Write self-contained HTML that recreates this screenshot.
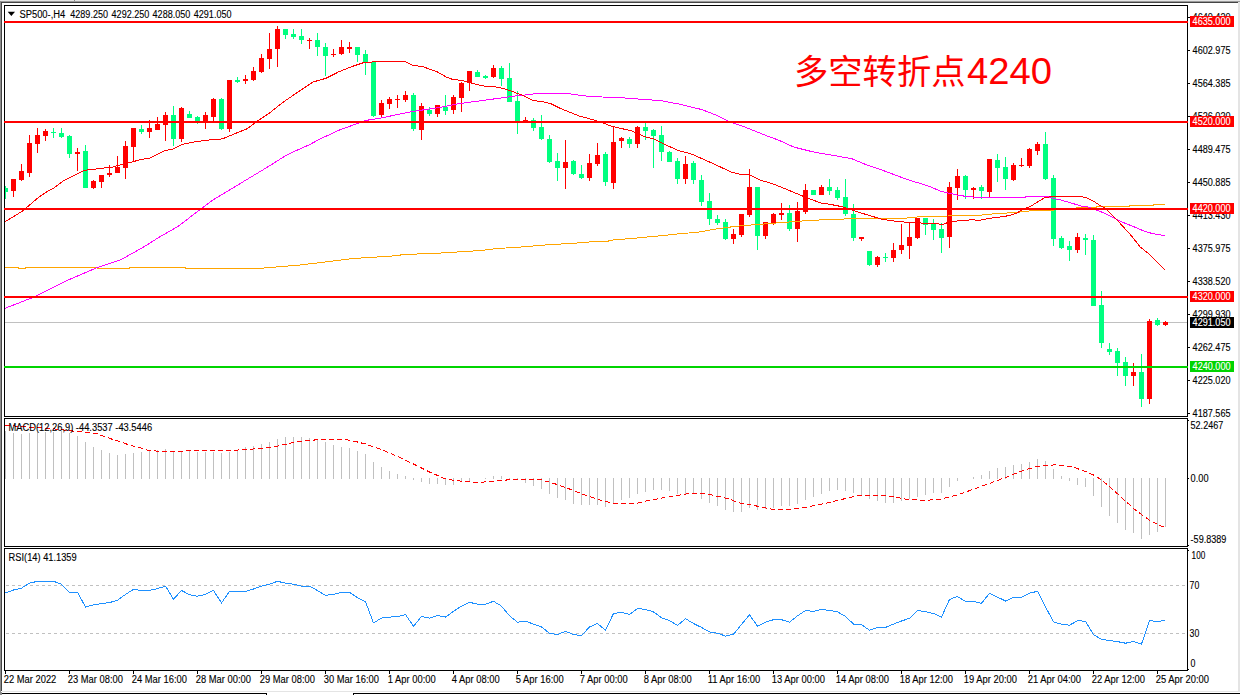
<!DOCTYPE html>
<html><head><meta charset="utf-8"><style>
html,body{margin:0;padding:0;background:#fff;}
body{width:1240px;height:695px;overflow:hidden;}
svg{display:block;}
text{white-space:pre;}
</style></head><body>
<svg width="1240" height="695" viewBox="0 0 1240 695" shape-rendering="crispEdges">
<defs><clipPath id="cm"><rect x="5" y="6" width="1182" height="410"/></clipPath><clipPath id="cd"><rect x="5" y="419" width="1182" height="127"/></clipPath><clipPath id="cr"><rect x="5" y="549" width="1182" height="121"/></clipPath></defs>
<rect x="0" y="0" width="1240" height="695" fill="#fff"/>
<rect x="0" y="0" width="1240" height="1" fill="#e6e6e6"/>
<rect x="0" y="1" width="1240" height="1" fill="#9a9a9a"/>
<rect x="1" y="2" width="1237" height="1" fill="#444"/>
<rect x="0" y="1" width="1" height="691" fill="#8c8c8c"/>
<rect x="1" y="2" width="1" height="689" fill="#444"/>
<rect x="74" y="0" width="1" height="1" fill="#888"/>
<rect x="1238" y="2" width="2" height="690" fill="#e4e4e4"/>
<rect x="2" y="691" width="1237" height="1" fill="#e4e4e4"/>
<rect x="0" y="693" width="267" height="1" fill="#000"/>
<rect x="266" y="693" width="1" height="2" fill="#000"/>
<rect x="353" y="693" width="887" height="1" fill="#000"/>
<rect x="353" y="693" width="1" height="2" fill="#000"/>
<rect x="0" y="692" width="2" height="3" fill="#8c8c8c"/>
<rect x="4" y="5" width="1184" height="1" fill="#000"/>
<rect x="4" y="416" width="1184" height="1" fill="#000"/>
<rect x="4" y="5" width="1" height="412" fill="#000"/>
<rect x="1187" y="5" width="1" height="412" fill="#000"/>
<rect x="4" y="418" width="1184" height="1" fill="#000"/>
<rect x="4" y="546" width="1184" height="1" fill="#000"/>
<rect x="4" y="418" width="1" height="129" fill="#000"/>
<rect x="1187" y="418" width="1" height="129" fill="#000"/>
<rect x="4" y="548" width="1184" height="1" fill="#000"/>
<rect x="4" y="670" width="1184" height="1" fill="#000"/>
<rect x="4" y="548" width="1" height="123" fill="#000"/>
<rect x="1187" y="548" width="1" height="123" fill="#000"/>
<g clip-path="url(#cm)">
<rect x="5" y="322" width="1182" height="1" fill="#c0c0c0"/>
<rect x="5" y="186" width="1" height="13" fill="#00ff7f"/>
<rect x="3" y="188" width="5" height="4" fill="#00ff7f"/>
<rect x="13" y="179" width="1" height="18" fill="#ff0000"/>
<rect x="11" y="179" width="5" height="12" fill="#ff0000"/>
<rect x="21" y="164" width="1" height="17" fill="#ff0000"/>
<rect x="19" y="171" width="5" height="9" fill="#ff0000"/>
<rect x="29" y="135" width="1" height="42" fill="#ff0000"/>
<rect x="27" y="143" width="5" height="30" fill="#ff0000"/>
<rect x="37" y="128" width="1" height="25" fill="#ff0000"/>
<rect x="35" y="135" width="5" height="9" fill="#ff0000"/>
<rect x="45" y="129" width="1" height="12" fill="#ff0000"/>
<rect x="43" y="131" width="5" height="5" fill="#ff0000"/>
<rect x="53" y="128" width="1" height="10" fill="#00ff7f"/>
<rect x="51" y="132" width="5" height="1" fill="#00ff7f"/>
<rect x="61" y="128" width="1" height="10" fill="#00ff7f"/>
<rect x="59" y="133" width="5" height="4" fill="#00ff7f"/>
<rect x="69" y="135" width="1" height="23" fill="#00ff7f"/>
<rect x="67" y="136" width="5" height="18" fill="#00ff7f"/>
<rect x="77" y="148" width="1" height="23" fill="#ff0000"/>
<rect x="75" y="152" width="5" height="2" fill="#ff0000"/>
<rect x="85" y="145" width="1" height="43" fill="#00ff7f"/>
<rect x="83" y="151" width="5" height="37" fill="#00ff7f"/>
<rect x="93" y="180" width="1" height="9" fill="#ff0000"/>
<rect x="91" y="181" width="5" height="7" fill="#ff0000"/>
<rect x="101" y="175" width="1" height="13" fill="#ff0000"/>
<rect x="99" y="175" width="5" height="7" fill="#ff0000"/>
<rect x="109" y="165" width="1" height="12" fill="#ff0000"/>
<rect x="107" y="173" width="5" height="2" fill="#ff0000"/>
<rect x="117" y="156" width="1" height="17" fill="#ff0000"/>
<rect x="115" y="167" width="5" height="6" fill="#ff0000"/>
<rect x="125" y="141" width="1" height="38" fill="#ff0000"/>
<rect x="123" y="146" width="5" height="22" fill="#ff0000"/>
<rect x="133" y="128" width="1" height="33" fill="#ff0000"/>
<rect x="131" y="128" width="5" height="19" fill="#ff0000"/>
<rect x="141" y="125" width="1" height="9" fill="#00ff7f"/>
<rect x="139" y="129" width="5" height="3" fill="#00ff7f"/>
<rect x="149" y="120" width="1" height="18" fill="#ff0000"/>
<rect x="147" y="128" width="5" height="4" fill="#ff0000"/>
<rect x="157" y="117" width="1" height="13" fill="#ff0000"/>
<rect x="155" y="124" width="5" height="6" fill="#ff0000"/>
<rect x="165" y="112" width="1" height="29" fill="#ff0000"/>
<rect x="163" y="115" width="5" height="10" fill="#ff0000"/>
<rect x="173" y="106" width="1" height="40" fill="#00ff7f"/>
<rect x="171" y="115" width="5" height="24" fill="#00ff7f"/>
<rect x="181" y="107" width="1" height="35" fill="#ff0000"/>
<rect x="179" y="108" width="5" height="31" fill="#ff0000"/>
<rect x="189" y="111" width="1" height="7" fill="#00ff7f"/>
<rect x="187" y="114" width="5" height="4" fill="#00ff7f"/>
<rect x="197" y="116" width="1" height="8" fill="#00ff7f"/>
<rect x="195" y="117" width="5" height="4" fill="#00ff7f"/>
<rect x="205" y="112" width="1" height="17" fill="#ff0000"/>
<rect x="203" y="115" width="5" height="6" fill="#ff0000"/>
<rect x="213" y="98" width="1" height="23" fill="#ff0000"/>
<rect x="211" y="99" width="5" height="18" fill="#ff0000"/>
<rect x="221" y="98" width="1" height="32" fill="#00ff7f"/>
<rect x="219" y="99" width="5" height="30" fill="#00ff7f"/>
<rect x="229" y="80" width="1" height="52" fill="#ff0000"/>
<rect x="227" y="80" width="5" height="49" fill="#ff0000"/>
<rect x="237" y="77" width="1" height="6" fill="#00ff7f"/>
<rect x="235" y="80" width="5" height="2" fill="#00ff7f"/>
<rect x="245" y="75" width="1" height="9" fill="#ff0000"/>
<rect x="243" y="79" width="5" height="2" fill="#ff0000"/>
<rect x="253" y="67" width="1" height="14" fill="#ff0000"/>
<rect x="251" y="71" width="5" height="9" fill="#ff0000"/>
<rect x="261" y="54" width="1" height="19" fill="#ff0000"/>
<rect x="259" y="58" width="5" height="14" fill="#ff0000"/>
<rect x="269" y="33" width="1" height="36" fill="#ff0000"/>
<rect x="267" y="49" width="5" height="10" fill="#ff0000"/>
<rect x="277" y="26" width="1" height="41" fill="#ff0000"/>
<rect x="275" y="29" width="5" height="20" fill="#ff0000"/>
<rect x="285" y="29" width="1" height="10" fill="#00ff7f"/>
<rect x="283" y="29" width="5" height="6" fill="#00ff7f"/>
<rect x="293" y="29" width="1" height="10" fill="#00ff7f"/>
<rect x="291" y="34" width="5" height="3" fill="#00ff7f"/>
<rect x="301" y="29" width="1" height="15" fill="#00ff7f"/>
<rect x="299" y="36" width="5" height="4" fill="#00ff7f"/>
<rect x="309" y="38" width="1" height="11" fill="#ff0000"/>
<rect x="307" y="40" width="5" height="1" fill="#ff0000"/>
<rect x="317" y="33" width="1" height="23" fill="#00ff7f"/>
<rect x="315" y="40" width="5" height="7" fill="#00ff7f"/>
<rect x="325" y="43" width="1" height="33" fill="#00ff7f"/>
<rect x="323" y="47" width="5" height="9" fill="#00ff7f"/>
<rect x="333" y="49" width="1" height="8" fill="#ff0000"/>
<rect x="331" y="54" width="5" height="1" fill="#ff0000"/>
<rect x="341" y="40" width="1" height="15" fill="#ff0000"/>
<rect x="339" y="47" width="5" height="7" fill="#ff0000"/>
<rect x="349" y="42" width="1" height="11" fill="#ff0000"/>
<rect x="347" y="47" width="5" height="2" fill="#ff0000"/>
<rect x="357" y="47" width="1" height="15" fill="#00ff7f"/>
<rect x="355" y="47" width="5" height="8" fill="#00ff7f"/>
<rect x="365" y="50" width="1" height="25" fill="#00ff7f"/>
<rect x="363" y="54" width="5" height="8" fill="#00ff7f"/>
<rect x="373" y="61" width="1" height="56" fill="#00ff7f"/>
<rect x="371" y="62" width="5" height="54" fill="#00ff7f"/>
<rect x="381" y="100" width="1" height="17" fill="#ff0000"/>
<rect x="379" y="103" width="5" height="12" fill="#ff0000"/>
<rect x="389" y="97" width="1" height="12" fill="#ff0000"/>
<rect x="387" y="99" width="5" height="5" fill="#ff0000"/>
<rect x="397" y="95" width="1" height="13" fill="#ff0000"/>
<rect x="395" y="99" width="5" height="1" fill="#ff0000"/>
<rect x="405" y="91" width="1" height="11" fill="#ff0000"/>
<rect x="403" y="95" width="5" height="5" fill="#ff0000"/>
<rect x="413" y="93" width="1" height="38" fill="#00ff7f"/>
<rect x="411" y="95" width="5" height="34" fill="#00ff7f"/>
<rect x="421" y="103" width="1" height="37" fill="#ff0000"/>
<rect x="419" y="106" width="5" height="24" fill="#ff0000"/>
<rect x="429" y="107" width="1" height="9" fill="#00ff7f"/>
<rect x="427" y="110" width="5" height="4" fill="#00ff7f"/>
<rect x="437" y="105" width="1" height="12" fill="#ff0000"/>
<rect x="435" y="105" width="5" height="9" fill="#ff0000"/>
<rect x="445" y="95" width="1" height="20" fill="#00ff7f"/>
<rect x="443" y="107" width="5" height="4" fill="#00ff7f"/>
<rect x="453" y="95" width="1" height="19" fill="#ff0000"/>
<rect x="451" y="97" width="5" height="13" fill="#ff0000"/>
<rect x="461" y="82" width="1" height="30" fill="#ff0000"/>
<rect x="459" y="83" width="5" height="15" fill="#ff0000"/>
<rect x="469" y="71" width="1" height="20" fill="#ff0000"/>
<rect x="467" y="71" width="5" height="12" fill="#ff0000"/>
<rect x="477" y="70" width="1" height="7" fill="#00ff7f"/>
<rect x="475" y="72" width="5" height="5" fill="#00ff7f"/>
<rect x="485" y="75" width="1" height="4" fill="#00ff7f"/>
<rect x="483" y="76" width="5" height="2" fill="#00ff7f"/>
<rect x="493" y="65" width="1" height="13" fill="#ff0000"/>
<rect x="491" y="68" width="5" height="9" fill="#ff0000"/>
<rect x="501" y="66" width="1" height="20" fill="#00ff7f"/>
<rect x="499" y="68" width="5" height="11" fill="#00ff7f"/>
<rect x="509" y="63" width="1" height="39" fill="#00ff7f"/>
<rect x="507" y="78" width="5" height="24" fill="#00ff7f"/>
<rect x="517" y="91" width="1" height="43" fill="#00ff7f"/>
<rect x="515" y="101" width="5" height="20" fill="#00ff7f"/>
<rect x="525" y="117" width="1" height="4" fill="#ff0000"/>
<rect x="523" y="120" width="5" height="1" fill="#ff0000"/>
<rect x="533" y="118" width="1" height="13" fill="#00ff7f"/>
<rect x="531" y="120" width="5" height="8" fill="#00ff7f"/>
<rect x="541" y="115" width="1" height="25" fill="#00ff7f"/>
<rect x="539" y="127" width="5" height="12" fill="#00ff7f"/>
<rect x="549" y="135" width="1" height="28" fill="#00ff7f"/>
<rect x="547" y="139" width="5" height="23" fill="#00ff7f"/>
<rect x="557" y="153" width="1" height="28" fill="#00ff7f"/>
<rect x="555" y="161" width="5" height="7" fill="#00ff7f"/>
<rect x="565" y="140" width="1" height="49" fill="#ff0000"/>
<rect x="563" y="162" width="5" height="6" fill="#ff0000"/>
<rect x="573" y="160" width="1" height="15" fill="#00ff7f"/>
<rect x="571" y="161" width="5" height="13" fill="#00ff7f"/>
<rect x="581" y="165" width="1" height="14" fill="#00ff7f"/>
<rect x="579" y="174" width="5" height="4" fill="#00ff7f"/>
<rect x="589" y="154" width="1" height="27" fill="#ff0000"/>
<rect x="587" y="163" width="5" height="15" fill="#ff0000"/>
<rect x="597" y="143" width="1" height="23" fill="#ff0000"/>
<rect x="595" y="155" width="5" height="9" fill="#ff0000"/>
<rect x="605" y="152" width="1" height="34" fill="#00ff7f"/>
<rect x="603" y="154" width="5" height="28" fill="#00ff7f"/>
<rect x="613" y="127" width="1" height="62" fill="#ff0000"/>
<rect x="611" y="142" width="5" height="41" fill="#ff0000"/>
<rect x="621" y="137" width="1" height="11" fill="#ff0000"/>
<rect x="619" y="138" width="5" height="3" fill="#ff0000"/>
<rect x="629" y="137" width="1" height="11" fill="#00ff7f"/>
<rect x="627" y="139" width="5" height="5" fill="#00ff7f"/>
<rect x="637" y="126" width="1" height="22" fill="#ff0000"/>
<rect x="635" y="127" width="5" height="17" fill="#ff0000"/>
<rect x="645" y="123" width="1" height="17" fill="#00ff7f"/>
<rect x="643" y="127" width="5" height="4" fill="#00ff7f"/>
<rect x="653" y="129" width="1" height="39" fill="#00ff7f"/>
<rect x="651" y="130" width="5" height="6" fill="#00ff7f"/>
<rect x="661" y="126" width="1" height="35" fill="#00ff7f"/>
<rect x="659" y="135" width="5" height="17" fill="#00ff7f"/>
<rect x="669" y="151" width="1" height="11" fill="#00ff7f"/>
<rect x="667" y="152" width="5" height="10" fill="#00ff7f"/>
<rect x="677" y="158" width="1" height="26" fill="#00ff7f"/>
<rect x="675" y="161" width="5" height="18" fill="#00ff7f"/>
<rect x="685" y="156" width="1" height="28" fill="#ff0000"/>
<rect x="683" y="164" width="5" height="15" fill="#ff0000"/>
<rect x="693" y="161" width="1" height="23" fill="#00ff7f"/>
<rect x="691" y="163" width="5" height="17" fill="#00ff7f"/>
<rect x="701" y="175" width="1" height="31" fill="#00ff7f"/>
<rect x="699" y="180" width="5" height="22" fill="#00ff7f"/>
<rect x="709" y="193" width="1" height="32" fill="#00ff7f"/>
<rect x="707" y="201" width="5" height="18" fill="#00ff7f"/>
<rect x="717" y="215" width="1" height="10" fill="#00ff7f"/>
<rect x="715" y="219" width="5" height="4" fill="#00ff7f"/>
<rect x="725" y="219" width="1" height="21" fill="#00ff7f"/>
<rect x="723" y="222" width="5" height="17" fill="#00ff7f"/>
<rect x="733" y="229" width="1" height="15" fill="#ff0000"/>
<rect x="731" y="234" width="5" height="5" fill="#ff0000"/>
<rect x="741" y="214" width="1" height="23" fill="#ff0000"/>
<rect x="739" y="214" width="5" height="21" fill="#ff0000"/>
<rect x="749" y="169" width="1" height="48" fill="#ff0000"/>
<rect x="747" y="187" width="5" height="28" fill="#ff0000"/>
<rect x="757" y="187" width="1" height="63" fill="#00ff7f"/>
<rect x="755" y="187" width="5" height="49" fill="#00ff7f"/>
<rect x="765" y="222" width="1" height="17" fill="#ff0000"/>
<rect x="763" y="222" width="5" height="14" fill="#ff0000"/>
<rect x="773" y="213" width="1" height="12" fill="#ff0000"/>
<rect x="771" y="214" width="5" height="9" fill="#ff0000"/>
<rect x="781" y="203" width="1" height="17" fill="#ff0000"/>
<rect x="779" y="213" width="5" height="2" fill="#ff0000"/>
<rect x="789" y="205" width="1" height="26" fill="#00ff7f"/>
<rect x="787" y="213" width="5" height="16" fill="#00ff7f"/>
<rect x="797" y="202" width="1" height="40" fill="#ff0000"/>
<rect x="795" y="211" width="5" height="18" fill="#ff0000"/>
<rect x="805" y="184" width="1" height="30" fill="#ff0000"/>
<rect x="803" y="190" width="5" height="22" fill="#ff0000"/>
<rect x="813" y="190" width="1" height="5" fill="#00ff7f"/>
<rect x="811" y="190" width="5" height="5" fill="#00ff7f"/>
<rect x="821" y="185" width="1" height="10" fill="#ff0000"/>
<rect x="819" y="187" width="5" height="8" fill="#ff0000"/>
<rect x="829" y="179" width="1" height="16" fill="#00ff7f"/>
<rect x="827" y="187" width="5" height="4" fill="#00ff7f"/>
<rect x="837" y="187" width="1" height="13" fill="#00ff7f"/>
<rect x="835" y="190" width="5" height="8" fill="#00ff7f"/>
<rect x="845" y="179" width="1" height="37" fill="#00ff7f"/>
<rect x="843" y="197" width="5" height="17" fill="#00ff7f"/>
<rect x="853" y="204" width="1" height="37" fill="#00ff7f"/>
<rect x="851" y="214" width="5" height="24" fill="#00ff7f"/>
<rect x="861" y="237" width="1" height="4" fill="#ff0000"/>
<rect x="859" y="237" width="5" height="2" fill="#ff0000"/>
<rect x="869" y="251" width="1" height="15" fill="#00ff7f"/>
<rect x="867" y="251" width="5" height="14" fill="#00ff7f"/>
<rect x="877" y="256" width="1" height="11" fill="#ff0000"/>
<rect x="875" y="257" width="5" height="8" fill="#ff0000"/>
<rect x="885" y="253" width="1" height="9" fill="#00ff7f"/>
<rect x="883" y="257" width="5" height="1" fill="#00ff7f"/>
<rect x="893" y="243" width="1" height="19" fill="#ff0000"/>
<rect x="891" y="250" width="5" height="8" fill="#ff0000"/>
<rect x="901" y="224" width="1" height="30" fill="#ff0000"/>
<rect x="899" y="245" width="5" height="5" fill="#ff0000"/>
<rect x="909" y="222" width="1" height="37" fill="#ff0000"/>
<rect x="907" y="237" width="5" height="9" fill="#ff0000"/>
<rect x="917" y="218" width="1" height="21" fill="#ff0000"/>
<rect x="915" y="218" width="5" height="20" fill="#ff0000"/>
<rect x="925" y="218" width="1" height="17" fill="#00ff7f"/>
<rect x="923" y="218" width="5" height="7" fill="#00ff7f"/>
<rect x="933" y="219" width="1" height="21" fill="#00ff7f"/>
<rect x="931" y="224" width="5" height="6" fill="#00ff7f"/>
<rect x="941" y="223" width="1" height="30" fill="#00ff7f"/>
<rect x="939" y="229" width="5" height="9" fill="#00ff7f"/>
<rect x="949" y="182" width="1" height="66" fill="#ff0000"/>
<rect x="947" y="187" width="5" height="50" fill="#ff0000"/>
<rect x="957" y="169" width="1" height="31" fill="#ff0000"/>
<rect x="955" y="176" width="5" height="12" fill="#ff0000"/>
<rect x="965" y="175" width="1" height="24" fill="#00ff7f"/>
<rect x="963" y="176" width="5" height="14" fill="#00ff7f"/>
<rect x="973" y="187" width="1" height="12" fill="#ff0000"/>
<rect x="971" y="188" width="5" height="2" fill="#ff0000"/>
<rect x="981" y="185" width="1" height="14" fill="#00ff7f"/>
<rect x="979" y="187" width="5" height="4" fill="#00ff7f"/>
<rect x="989" y="159" width="1" height="38" fill="#ff0000"/>
<rect x="987" y="159" width="5" height="33" fill="#ff0000"/>
<rect x="997" y="154" width="1" height="28" fill="#00ff7f"/>
<rect x="995" y="160" width="5" height="8" fill="#00ff7f"/>
<rect x="1005" y="157" width="1" height="33" fill="#00ff7f"/>
<rect x="1003" y="167" width="5" height="12" fill="#00ff7f"/>
<rect x="1013" y="163" width="1" height="18" fill="#ff0000"/>
<rect x="1011" y="165" width="5" height="15" fill="#ff0000"/>
<rect x="1021" y="158" width="1" height="9" fill="#ff0000"/>
<rect x="1019" y="165" width="5" height="1" fill="#ff0000"/>
<rect x="1029" y="148" width="1" height="20" fill="#ff0000"/>
<rect x="1027" y="149" width="5" height="17" fill="#ff0000"/>
<rect x="1037" y="142" width="1" height="13" fill="#ff0000"/>
<rect x="1035" y="144" width="5" height="7" fill="#ff0000"/>
<rect x="1045" y="132" width="1" height="48" fill="#00ff7f"/>
<rect x="1043" y="144" width="5" height="35" fill="#00ff7f"/>
<rect x="1053" y="175" width="1" height="71" fill="#00ff7f"/>
<rect x="1051" y="178" width="5" height="61" fill="#00ff7f"/>
<rect x="1061" y="236" width="1" height="13" fill="#00ff7f"/>
<rect x="1059" y="238" width="5" height="10" fill="#00ff7f"/>
<rect x="1069" y="241" width="1" height="20" fill="#00ff7f"/>
<rect x="1067" y="246" width="5" height="4" fill="#00ff7f"/>
<rect x="1077" y="233" width="1" height="20" fill="#ff0000"/>
<rect x="1075" y="237" width="5" height="13" fill="#ff0000"/>
<rect x="1085" y="234" width="1" height="21" fill="#00ff7f"/>
<rect x="1083" y="238" width="5" height="2" fill="#00ff7f"/>
<rect x="1093" y="235" width="1" height="71" fill="#00ff7f"/>
<rect x="1091" y="240" width="5" height="66" fill="#00ff7f"/>
<rect x="1101" y="291" width="1" height="57" fill="#00ff7f"/>
<rect x="1099" y="305" width="5" height="38" fill="#00ff7f"/>
<rect x="1109" y="343" width="1" height="12" fill="#00ff7f"/>
<rect x="1107" y="349" width="5" height="3" fill="#00ff7f"/>
<rect x="1117" y="348" width="1" height="28" fill="#00ff7f"/>
<rect x="1115" y="351" width="5" height="12" fill="#00ff7f"/>
<rect x="1125" y="357" width="1" height="29" fill="#00ff7f"/>
<rect x="1123" y="362" width="5" height="14" fill="#00ff7f"/>
<rect x="1133" y="363" width="1" height="23" fill="#ff0000"/>
<rect x="1131" y="372" width="5" height="4" fill="#ff0000"/>
<rect x="1141" y="354" width="1" height="53" fill="#00ff7f"/>
<rect x="1139" y="372" width="5" height="27" fill="#00ff7f"/>
<rect x="1149" y="319" width="1" height="85" fill="#ff0000"/>
<rect x="1147" y="321" width="5" height="78" fill="#ff0000"/>
<rect x="1157" y="318" width="1" height="8" fill="#00ff7f"/>
<rect x="1155" y="320" width="5" height="5" fill="#00ff7f"/>
<rect x="1165" y="321" width="1" height="5" fill="#ff0000"/>
<rect x="1163" y="322" width="5" height="3" fill="#ff0000"/>
<polyline points="4.8,267.5 18.0,267.5 18.0,268.5 25.0,268.5 25.0,267.5 97.0,267.5 97.0,268.5 129.0,268.5 129.0,267.5 185.0,267.5 185.0,268.5 257.0,268.5 272.0,267.5 280.0,266.5 296.0,265.5 304.0,264.5 313.0,263.5 321.0,262.5 329.0,261.5 337.0,260.5 345.0,259.5 353.0,258.5 369.0,257.5 385.0,256.5 400.0,255.5 401.0,254.5 433.0,253.5 449.0,252.5 465.0,251.5 481.5,250.5 489.5,249.5 497.6,248.5 513.7,247.5 529.0,246.5 537.0,245.5 553.0,244.5 569.0,243.5 585.5,242.5 593.5,241.5 608.0,241.5 608.0,240.5 619.0,239.5 632.0,238.5 642.0,237.5 651.6,236.5 664.5,235.5 672.6,234.5 680.6,233.5 696.8,232.5 704.8,231.0 713.0,229.5 722.6,228.0 737.0,226.2 761.3,224.2 777.4,222.9 809.4,220.4 840.0,219.1 856.5,218.7 880.6,218.7 904.8,218.2 921.0,216.6 945.0,216.1 961.0,215.5 980.0,215.3 985.2,214.5 1001.3,213.4 1016.8,212.4 1025.2,211.5 1032.9,210.5 1049.0,210.5 1081.0,207.5 1096.6,207.5 1096.6,206.5 1129.0,206.5 1129.0,205.5 1153.0,205.5 1153.0,204.5 1165.0,204.5" fill="none" stroke="#ffa500" stroke-width="1" shape-rendering="crispEdges"/>
<polyline points="4.8,308.4 32.3,297.7 64.5,281.6 96.8,267.7 120.4,260.0 145.2,246.1 160.0,236.7 177.4,226.8 200.0,209.7 212.9,200.0 245.2,180.5 266.5,167.7 287.2,154.7 310.0,144.4 319.4,139.3 338.8,130.3 358.3,123.1 364.7,120.6 377.7,118.6 390.6,116.0 410.0,112.0 427.0,109.3 442.4,107.0 460.0,103.5 482.4,100.5 501.8,97.9 514.7,96.0 527.7,94.7 538.0,93.4 566.5,93.4 573.0,94.3 586.0,96.0 602.0,97.0 617.0,97.4 636.3,98.9 660.5,100.6 679.8,104.2 701.6,109.5 716.1,115.1 728.2,121.1 745.2,127.2 769.4,136.9 778.4,140.0 793.9,147.1 809.4,151.0 822.4,153.6 840.0,156.6 851.6,158.6 866.1,164.7 881.8,170.0 907.7,179.7 927.0,185.5 941.3,191.4 959.4,195.5 970.0,196.8 977.8,197.3 1025.2,197.3 1025.2,196.5 1047.7,196.5 1052.6,198.2 1061.0,200.0 1071.4,203.1 1082.0,206.2 1087.2,206.8 1097.7,210.6 1104.6,213.2 1111.5,216.7 1123.0,222.4 1134.5,227.0 1142.6,230.5 1151.8,233.4 1165.0,235.7" fill="none" stroke="#ff00ff" stroke-width="1" shape-rendering="crispEdges"/>
<polyline points="4.5,222.0 22.0,211.4 38.8,197.2 45.3,192.7 54.4,187.6 63.4,180.8 72.5,176.3 84.0,170.4 97.0,168.9 112.6,167.0 128.0,163.0 142.4,159.2 150.0,158.0 164.2,150.8 173.3,148.9 182.4,144.4 195.3,141.8 212.1,139.6 222.5,138.9 234.0,134.0 247.0,128.8 257.4,121.0 269.1,113.3 282.0,103.0 300.0,90.6 313.0,82.0 326.0,78.3 338.8,71.8 351.8,66.6 364.0,62.5 372.5,62.0 384.0,61.7 390.6,61.2 406.0,62.0 412.6,65.3 423.0,66.6 429.4,69.2 437.2,71.8 446.3,77.0 452.7,79.5 460.0,80.2 466.8,81.7 475.9,84.3 485.0,86.2 495.3,86.9 504.4,88.8 512.1,91.4 522.5,95.3 532.8,100.5 543.2,101.8 551.0,103.7 560.0,108.3 564.3,110.0 579.4,116.0 597.3,121.0 612.8,126.6 631.0,130.7 644.0,136.5 654.3,139.1 666.0,145.0 678.9,150.8 690.0,153.4 705.9,160.4 718.8,166.2 731.8,172.4 740.8,174.3 748.6,174.3 760.3,180.1 773.2,184.0 786.1,189.2 801.7,195.7 809.4,198.9 822.4,203.4 830.0,204.3 843.0,206.9 855.9,211.4 868.8,215.3 881.8,219.2 894.7,221.1 907.7,222.4 920.6,223.0 933.6,223.3 942.6,224.4 946.5,223.0 959.4,220.5 972.4,219.8 980.0,220.4 983.2,219.5 987.1,218.9 992.9,217.9 1001.3,216.9 1007.1,215.9 1012.3,214.8 1016.8,213.0 1020.0,211.0 1026.5,208.0 1031.6,205.7 1036.1,202.8 1041.3,199.9 1044.5,197.7 1048.4,197.3 1049.7,196.9 1082.0,196.8 1086.0,197.5 1092.4,200.5 1098.7,204.7 1102.9,206.8 1107.0,210.0 1115.0,217.8 1121.3,224.7 1129.3,233.4 1134.5,239.7 1140.3,247.2 1147.2,252.4 1165.0,269.8" fill="none" stroke="#ff0000" stroke-width="1" shape-rendering="crispEdges"/>
</g>
<rect x="4" y="21" width="1184" height="2" fill="#ff0000"/>
<rect x="4" y="121" width="1184" height="2" fill="#ff0000"/>
<rect x="4" y="208" width="1184" height="2" fill="#ff0000"/>
<rect x="4" y="296" width="1184" height="2" fill="#ff0000"/>
<rect x="4" y="366" width="1184" height="2" fill="#00d400"/>
<g clip-path="url(#cd)">
<rect x="5" y="431" width="1" height="48" fill="#c0c0c0"/>
<rect x="13" y="433" width="1" height="46" fill="#c0c0c0"/>
<rect x="21" y="434" width="1" height="45" fill="#c0c0c0"/>
<rect x="29" y="433" width="1" height="46" fill="#c0c0c0"/>
<rect x="37" y="432" width="1" height="47" fill="#c0c0c0"/>
<rect x="45" y="432" width="1" height="47" fill="#c0c0c0"/>
<rect x="53" y="432" width="1" height="47" fill="#c0c0c0"/>
<rect x="61" y="431" width="1" height="48" fill="#c0c0c0"/>
<rect x="69" y="433" width="1" height="46" fill="#c0c0c0"/>
<rect x="77" y="436" width="1" height="43" fill="#c0c0c0"/>
<rect x="85" y="442" width="1" height="37" fill="#c0c0c0"/>
<rect x="93" y="447" width="1" height="32" fill="#c0c0c0"/>
<rect x="101" y="450" width="1" height="29" fill="#c0c0c0"/>
<rect x="109" y="453" width="1" height="26" fill="#c0c0c0"/>
<rect x="117" y="455" width="1" height="24" fill="#c0c0c0"/>
<rect x="125" y="454" width="1" height="25" fill="#c0c0c0"/>
<rect x="133" y="453" width="1" height="26" fill="#c0c0c0"/>
<rect x="141" y="452" width="1" height="27" fill="#c0c0c0"/>
<rect x="149" y="451" width="1" height="28" fill="#c0c0c0"/>
<rect x="157" y="450" width="1" height="29" fill="#c0c0c0"/>
<rect x="165" y="449" width="1" height="30" fill="#c0c0c0"/>
<rect x="173" y="452" width="1" height="27" fill="#c0c0c0"/>
<rect x="181" y="451" width="1" height="28" fill="#c0c0c0"/>
<rect x="189" y="451" width="1" height="28" fill="#c0c0c0"/>
<rect x="197" y="452" width="1" height="27" fill="#c0c0c0"/>
<rect x="205" y="452" width="1" height="27" fill="#c0c0c0"/>
<rect x="213" y="452" width="1" height="27" fill="#c0c0c0"/>
<rect x="221" y="453" width="1" height="26" fill="#c0c0c0"/>
<rect x="229" y="452" width="1" height="27" fill="#c0c0c0"/>
<rect x="237" y="450" width="1" height="29" fill="#c0c0c0"/>
<rect x="245" y="447" width="1" height="32" fill="#c0c0c0"/>
<rect x="253" y="446" width="1" height="33" fill="#c0c0c0"/>
<rect x="261" y="444" width="1" height="35" fill="#c0c0c0"/>
<rect x="269" y="442" width="1" height="37" fill="#c0c0c0"/>
<rect x="277" y="439" width="1" height="40" fill="#c0c0c0"/>
<rect x="285" y="437" width="1" height="42" fill="#c0c0c0"/>
<rect x="293" y="437" width="1" height="42" fill="#c0c0c0"/>
<rect x="301" y="437" width="1" height="42" fill="#c0c0c0"/>
<rect x="309" y="438" width="1" height="41" fill="#c0c0c0"/>
<rect x="317" y="439" width="1" height="40" fill="#c0c0c0"/>
<rect x="325" y="442" width="1" height="37" fill="#c0c0c0"/>
<rect x="333" y="445" width="1" height="34" fill="#c0c0c0"/>
<rect x="341" y="447" width="1" height="32" fill="#c0c0c0"/>
<rect x="349" y="448" width="1" height="31" fill="#c0c0c0"/>
<rect x="357" y="451" width="1" height="28" fill="#c0c0c0"/>
<rect x="365" y="454" width="1" height="25" fill="#c0c0c0"/>
<rect x="373" y="462" width="1" height="17" fill="#c0c0c0"/>
<rect x="381" y="467" width="1" height="12" fill="#c0c0c0"/>
<rect x="389" y="471" width="1" height="8" fill="#c0c0c0"/>
<rect x="397" y="474" width="1" height="5" fill="#c0c0c0"/>
<rect x="405" y="476" width="1" height="3" fill="#c0c0c0"/>
<rect x="413" y="478" width="1" height="2" fill="#c0c0c0"/>
<rect x="421" y="478" width="1" height="4" fill="#c0c0c0"/>
<rect x="429" y="478" width="1" height="6" fill="#c0c0c0"/>
<rect x="437" y="478" width="1" height="6" fill="#c0c0c0"/>
<rect x="445" y="478" width="1" height="7" fill="#c0c0c0"/>
<rect x="453" y="478" width="1" height="7" fill="#c0c0c0"/>
<rect x="461" y="478" width="1" height="4" fill="#c0c0c0"/>
<rect x="469" y="478" width="1" height="3" fill="#c0c0c0"/>
<rect x="485" y="478" width="1" height="1" fill="#c0c0c0"/>
<rect x="493" y="476" width="1" height="3" fill="#c0c0c0"/>
<rect x="501" y="476" width="1" height="3" fill="#c0c0c0"/>
<rect x="509" y="478" width="1" height="1" fill="#c0c0c0"/>
<rect x="517" y="478" width="1" height="1" fill="#c0c0c0"/>
<rect x="525" y="478" width="1" height="5" fill="#c0c0c0"/>
<rect x="533" y="478" width="1" height="8" fill="#c0c0c0"/>
<rect x="541" y="478" width="1" height="11" fill="#c0c0c0"/>
<rect x="549" y="478" width="1" height="16" fill="#c0c0c0"/>
<rect x="557" y="478" width="1" height="20" fill="#c0c0c0"/>
<rect x="565" y="478" width="1" height="22" fill="#c0c0c0"/>
<rect x="573" y="478" width="1" height="26" fill="#c0c0c0"/>
<rect x="581" y="478" width="1" height="27" fill="#c0c0c0"/>
<rect x="589" y="478" width="1" height="27" fill="#c0c0c0"/>
<rect x="597" y="478" width="1" height="27" fill="#c0c0c0"/>
<rect x="605" y="478" width="1" height="29" fill="#c0c0c0"/>
<rect x="613" y="478" width="1" height="25" fill="#c0c0c0"/>
<rect x="621" y="478" width="1" height="22" fill="#c0c0c0"/>
<rect x="629" y="478" width="1" height="20" fill="#c0c0c0"/>
<rect x="637" y="478" width="1" height="16" fill="#c0c0c0"/>
<rect x="645" y="478" width="1" height="14" fill="#c0c0c0"/>
<rect x="653" y="478" width="1" height="12" fill="#c0c0c0"/>
<rect x="661" y="478" width="1" height="12" fill="#c0c0c0"/>
<rect x="669" y="478" width="1" height="13" fill="#c0c0c0"/>
<rect x="677" y="478" width="1" height="16" fill="#c0c0c0"/>
<rect x="685" y="478" width="1" height="16" fill="#c0c0c0"/>
<rect x="693" y="478" width="1" height="16" fill="#c0c0c0"/>
<rect x="701" y="478" width="1" height="21" fill="#c0c0c0"/>
<rect x="709" y="478" width="1" height="25" fill="#c0c0c0"/>
<rect x="717" y="478" width="1" height="28" fill="#c0c0c0"/>
<rect x="725" y="478" width="1" height="32" fill="#c0c0c0"/>
<rect x="733" y="478" width="1" height="34" fill="#c0c0c0"/>
<rect x="741" y="478" width="1" height="34" fill="#c0c0c0"/>
<rect x="749" y="478" width="1" height="30" fill="#c0c0c0"/>
<rect x="757" y="478" width="1" height="32" fill="#c0c0c0"/>
<rect x="765" y="478" width="1" height="31" fill="#c0c0c0"/>
<rect x="773" y="478" width="1" height="30" fill="#c0c0c0"/>
<rect x="781" y="478" width="1" height="28" fill="#c0c0c0"/>
<rect x="789" y="478" width="1" height="28" fill="#c0c0c0"/>
<rect x="797" y="478" width="1" height="26" fill="#c0c0c0"/>
<rect x="805" y="478" width="1" height="22" fill="#c0c0c0"/>
<rect x="813" y="478" width="1" height="19" fill="#c0c0c0"/>
<rect x="821" y="478" width="1" height="16" fill="#c0c0c0"/>
<rect x="829" y="478" width="1" height="13" fill="#c0c0c0"/>
<rect x="837" y="478" width="1" height="12" fill="#c0c0c0"/>
<rect x="845" y="478" width="1" height="13" fill="#c0c0c0"/>
<rect x="853" y="478" width="1" height="15" fill="#c0c0c0"/>
<rect x="861" y="478" width="1" height="18" fill="#c0c0c0"/>
<rect x="869" y="478" width="1" height="21" fill="#c0c0c0"/>
<rect x="877" y="478" width="1" height="23" fill="#c0c0c0"/>
<rect x="885" y="478" width="1" height="25" fill="#c0c0c0"/>
<rect x="893" y="478" width="1" height="25" fill="#c0c0c0"/>
<rect x="901" y="478" width="1" height="23" fill="#c0c0c0"/>
<rect x="909" y="478" width="1" height="21" fill="#c0c0c0"/>
<rect x="917" y="478" width="1" height="19" fill="#c0c0c0"/>
<rect x="925" y="478" width="1" height="17" fill="#c0c0c0"/>
<rect x="933" y="478" width="1" height="15" fill="#c0c0c0"/>
<rect x="941" y="478" width="1" height="15" fill="#c0c0c0"/>
<rect x="949" y="478" width="1" height="9" fill="#c0c0c0"/>
<rect x="957" y="478" width="1" height="3" fill="#c0c0c0"/>
<rect x="973" y="477" width="1" height="2" fill="#c0c0c0"/>
<rect x="981" y="475" width="1" height="4" fill="#c0c0c0"/>
<rect x="989" y="471" width="1" height="8" fill="#c0c0c0"/>
<rect x="997" y="468" width="1" height="11" fill="#c0c0c0"/>
<rect x="1005" y="467" width="1" height="12" fill="#c0c0c0"/>
<rect x="1013" y="465" width="1" height="14" fill="#c0c0c0"/>
<rect x="1021" y="464" width="1" height="15" fill="#c0c0c0"/>
<rect x="1029" y="462" width="1" height="17" fill="#c0c0c0"/>
<rect x="1037" y="459" width="1" height="20" fill="#c0c0c0"/>
<rect x="1045" y="461" width="1" height="18" fill="#c0c0c0"/>
<rect x="1053" y="469" width="1" height="10" fill="#c0c0c0"/>
<rect x="1061" y="476" width="1" height="3" fill="#c0c0c0"/>
<rect x="1069" y="478" width="1" height="3" fill="#c0c0c0"/>
<rect x="1077" y="478" width="1" height="7" fill="#c0c0c0"/>
<rect x="1085" y="478" width="1" height="9" fill="#c0c0c0"/>
<rect x="1093" y="478" width="1" height="18" fill="#c0c0c0"/>
<rect x="1101" y="478" width="1" height="29" fill="#c0c0c0"/>
<rect x="1109" y="478" width="1" height="38" fill="#c0c0c0"/>
<rect x="1117" y="478" width="1" height="45" fill="#c0c0c0"/>
<rect x="1125" y="478" width="1" height="52" fill="#c0c0c0"/>
<rect x="1133" y="478" width="1" height="55" fill="#c0c0c0"/>
<rect x="1141" y="478" width="1" height="61" fill="#c0c0c0"/>
<rect x="1149" y="478" width="1" height="57" fill="#c0c0c0"/>
<rect x="1157" y="478" width="1" height="54" fill="#c0c0c0"/>
<rect x="1165" y="478" width="1" height="49" fill="#c0c0c0"/>
<polyline points="5.0,425.3 26.0,426.8 51.8,428.6 75.0,431.3 95.2,433.2 99.1,434.5 110.9,438.8 118.7,441.3 126.5,444.0 134.4,446.4 142.2,448.4 149.0,450.5 157.8,451.1 180.0,451.2 194.2,450.6 230.0,450.4 249.4,449.4 268.8,447.4 277.6,446.1 286.3,444.1 294.1,442.2 317.4,439.7 346.5,439.7 354.3,441.2 365.9,444.1 381.5,449.6 397.0,456.2 412.5,463.5 428.0,471.3 443.6,478.1 455.2,480.6 470.0,482.0 479.4,482.4 498.8,480.6 518.3,479.1 541.6,480.0 551.3,482.6 564.9,487.2 576.5,491.7 588.2,496.2 599.8,499.9 613.4,503.3 636.7,503.3 646.4,501.0 661.9,498.1 673.6,496.2 690.0,493.3 705.5,493.3 717.2,496.2 728.8,498.9 740.5,503.3 756.0,505.9 771.6,509.2 791.0,509.4 806.5,507.2 825.9,503.3 841.5,499.5 855.0,496.2 864.8,495.2 891.9,496.2 903.6,498.9 922.9,500.4 939.4,499.5 958.8,494.6 974.4,488.8 989.9,483.3 1005.4,477.5 1021.0,471.3 1036.5,466.5 1055.9,464.7 1071.5,466.5 1085.0,471.3 1094.8,475.6 1102.5,480.6 1114.2,490.7 1125.8,501.4 1135.5,510.1 1149.1,519.9 1160.0,525.7 1165.0,527.2" fill="none" stroke="#ff0000" stroke-width="1" stroke-dasharray="5,3"/>
</g>
<g clip-path="url(#cr)">
<line x1="6" y1="585.5" x2="1187" y2="585.5" stroke="#c0c0c0" stroke-width="1" stroke-dasharray="3,3"/>
<line x1="6" y1="633.5" x2="1187" y2="633.5" stroke="#c0c0c0" stroke-width="1" stroke-dasharray="3,3"/>
<polyline points="5.5,592.9 13.5,590.0 21.5,588.1 29.5,583.2 37.5,581.3 45.5,581.3 53.5,581.3 61.5,584.2 69.5,592.3 77.5,592.3 85.5,607.0 93.5,604.9 101.5,603.5 109.5,602.6 117.5,600.3 125.5,594.4 133.5,589.4 141.5,590.4 149.5,590.4 157.5,588.6 165.5,586.1 173.5,599.3 181.5,590.4 189.5,594.8 197.5,596.2 205.5,594.4 213.5,590.4 221.5,603.0 229.5,591.4 237.5,591.4 245.5,591.4 253.5,589.0 261.5,586.1 269.5,584.2 277.5,581.3 285.5,583.2 293.5,584.2 301.5,586.1 309.5,586.1 317.5,590.6 325.5,595.4 333.5,594.3 341.5,592.3 349.5,592.3 357.5,597.7 365.5,601.6 373.5,622.9 381.5,618.1 389.5,617.1 397.5,616.7 405.5,614.6 413.5,626.2 421.5,616.5 429.5,618.1 437.5,615.5 445.5,617.1 453.5,611.3 461.5,606.2 469.5,602.3 477.5,604.2 485.5,604.2 493.5,601.3 501.5,606.1 509.5,615.8 517.5,622.2 525.5,621.2 533.5,624.1 541.5,627.0 549.5,633.2 557.5,634.6 565.5,631.3 573.5,634.6 581.5,635.5 589.5,627.0 597.5,623.5 605.5,630.3 613.5,613.5 621.5,612.5 629.5,614.4 637.5,608.6 645.5,609.4 653.5,611.9 661.5,617.7 669.5,620.6 677.5,625.5 685.5,618.7 693.5,623.5 701.5,627.4 709.5,631.9 717.5,633.2 725.5,636.1 733.5,634.2 741.5,624.5 749.5,614.8 757.5,626.1 765.5,622.2 773.5,619.7 781.5,619.7 789.5,622.2 797.5,615.8 805.5,610.6 813.5,611.4 821.5,609.4 829.5,610.4 837.5,611.9 845.5,616.4 853.5,624.1 861.5,624.5 869.5,630.3 877.5,627.4 885.5,627.4 893.5,624.1 901.5,621.0 909.5,618.3 917.5,610.4 925.5,611.7 933.5,613.5 941.5,617.0 949.5,599.4 957.5,596.5 965.5,601.4 973.5,601.4 981.5,603.3 989.5,593.2 997.5,597.1 1005.5,601.0 1013.5,597.5 1021.5,597.1 1029.5,593.2 1037.5,591.3 1045.5,606.8 1053.5,621.9 1061.5,624.2 1069.5,625.2 1077.5,620.7 1085.5,621.3 1093.5,634.8 1101.5,639.3 1109.5,640.6 1117.5,641.6 1125.5,643.2 1133.5,641.6 1141.5,644.1 1149.5,620.7 1157.5,621.4 1165.5,620.5" fill="none" stroke="#1e90ff" stroke-width="1"/>
</g>
<g font-family="Liberation Sans, Arial, sans-serif" font-size="10" stroke-width="0.12" fill="#000" shape-rendering="auto">
<rect x="1188" y="17" width="2" height="1" fill="#000" shape-rendering="crispEdges"/>
<text x="1192.6" y="21" textLength="37.9" lengthAdjust="spacingAndGlyphs" stroke="#000">4640.420</text>
<rect x="1188" y="50" width="2" height="1" fill="#000" shape-rendering="crispEdges"/>
<text x="1192.6" y="54" textLength="37.9" lengthAdjust="spacingAndGlyphs" stroke="#000">4602.975</text>
<rect x="1188" y="83" width="2" height="1" fill="#000" shape-rendering="crispEdges"/>
<text x="1192.6" y="87" textLength="37.9" lengthAdjust="spacingAndGlyphs" stroke="#000">4564.385</text>
<rect x="1188" y="116" width="2" height="1" fill="#000" shape-rendering="crispEdges"/>
<text x="1192.6" y="120" textLength="37.9" lengthAdjust="spacingAndGlyphs" stroke="#000">4526.020</text>
<rect x="1188" y="149" width="2" height="1" fill="#000" shape-rendering="crispEdges"/>
<text x="1192.6" y="153" textLength="37.9" lengthAdjust="spacingAndGlyphs" stroke="#000">4489.475</text>
<rect x="1188" y="182" width="2" height="1" fill="#000" shape-rendering="crispEdges"/>
<text x="1192.6" y="186" textLength="37.9" lengthAdjust="spacingAndGlyphs" stroke="#000">4450.885</text>
<rect x="1188" y="215" width="2" height="1" fill="#000" shape-rendering="crispEdges"/>
<text x="1192.6" y="219" textLength="37.9" lengthAdjust="spacingAndGlyphs" stroke="#000">4413.430</text>
<rect x="1188" y="248" width="2" height="1" fill="#000" shape-rendering="crispEdges"/>
<text x="1192.6" y="252" textLength="37.9" lengthAdjust="spacingAndGlyphs" stroke="#000">4375.975</text>
<rect x="1188" y="281" width="2" height="1" fill="#000" shape-rendering="crispEdges"/>
<text x="1192.6" y="285" textLength="37.9" lengthAdjust="spacingAndGlyphs" stroke="#000">4338.520</text>
<rect x="1188" y="314" width="2" height="1" fill="#000" shape-rendering="crispEdges"/>
<text x="1192.6" y="318" textLength="37.9" lengthAdjust="spacingAndGlyphs" stroke="#000">4299.930</text>
<rect x="1188" y="347" width="2" height="1" fill="#000" shape-rendering="crispEdges"/>
<text x="1192.6" y="351" textLength="37.9" lengthAdjust="spacingAndGlyphs" stroke="#000">4262.475</text>
<rect x="1188" y="380" width="2" height="1" fill="#000" shape-rendering="crispEdges"/>
<text x="1192.6" y="384" textLength="37.9" lengthAdjust="spacingAndGlyphs" stroke="#000">4225.020</text>
<rect x="1188" y="413" width="2" height="1" fill="#000" shape-rendering="crispEdges"/>
<text x="1192.6" y="417" textLength="37.9" lengthAdjust="spacingAndGlyphs" stroke="#000">4187.565</text>
<rect x="1190" y="16" width="44" height="11" fill="#ff0000" shape-rendering="crispEdges"/>
<text x="1192.6" y="25" textLength="37.9" lengthAdjust="spacingAndGlyphs" fill="#fff" stroke="#fff">4635.000</text>
<rect x="1190" y="116" width="44" height="11" fill="#ff0000" shape-rendering="crispEdges"/>
<text x="1192.6" y="125" textLength="37.9" lengthAdjust="spacingAndGlyphs" fill="#fff" stroke="#fff">4520.000</text>
<rect x="1190" y="203" width="44" height="11" fill="#ff0000" shape-rendering="crispEdges"/>
<text x="1192.6" y="212" textLength="37.9" lengthAdjust="spacingAndGlyphs" fill="#fff" stroke="#fff">4420.000</text>
<rect x="1190" y="291" width="44" height="11" fill="#ff0000" shape-rendering="crispEdges"/>
<text x="1192.6" y="300" textLength="37.9" lengthAdjust="spacingAndGlyphs" fill="#fff" stroke="#fff">4320.000</text>
<rect x="1190" y="317" width="44" height="11" fill="#000" shape-rendering="crispEdges"/>
<text x="1192.6" y="326" textLength="37.9" lengthAdjust="spacingAndGlyphs" fill="#fff" stroke="#fff">4291.050</text>
<rect x="1190" y="361" width="44" height="11" fill="#00d400" shape-rendering="crispEdges"/>
<text x="1192.6" y="370" textLength="37.9" lengthAdjust="spacingAndGlyphs" fill="#fff" stroke="#fff">4240.000</text>
<rect x="1188" y="420" width="1" height="1" fill="#000" shape-rendering="crispEdges"/>
<rect x="1188" y="478" width="1" height="1" fill="#000" shape-rendering="crispEdges"/>
<rect x="1188" y="545" width="1" height="1" fill="#000" shape-rendering="crispEdges"/>
<text x="1190.6" y="429" textLength="32.6" lengthAdjust="spacingAndGlyphs" stroke="#000">52.2467</text>
<text x="1190.6" y="482" textLength="17.9" lengthAdjust="spacingAndGlyphs" stroke="#000">0.00</text>
<text x="1190.6" y="543" textLength="35.8" lengthAdjust="spacingAndGlyphs" stroke="#000">-59.8389</text>
<rect x="1188" y="550" width="1" height="1" fill="#000" shape-rendering="crispEdges"/>
<rect x="1188" y="669" width="1" height="1" fill="#000" shape-rendering="crispEdges"/>
<text x="1191.6" y="559" textLength="13.6" lengthAdjust="spacingAndGlyphs" stroke="#000">100</text>
<text x="1189.6" y="589" textLength="9.7" lengthAdjust="spacingAndGlyphs" stroke="#000">70</text>
<text x="1189.6" y="637" textLength="9.7" lengthAdjust="spacingAndGlyphs" stroke="#000">30</text>
<text x="1190.6" y="667" textLength="4.9" lengthAdjust="spacingAndGlyphs" stroke="#000">0</text>
<rect x="5" y="671" width="1" height="3" fill="#000" shape-rendering="crispEdges"/>
<text x="3.8" y="683" textLength="52.5" lengthAdjust="spacingAndGlyphs" stroke="#000">22 Mar 2022</text>
<rect x="69" y="671" width="1" height="3" fill="#000" shape-rendering="crispEdges"/>
<text x="67.8" y="683" textLength="55.1" lengthAdjust="spacingAndGlyphs" stroke="#000">23 Mar 08:00</text>
<rect x="133" y="671" width="1" height="3" fill="#000" shape-rendering="crispEdges"/>
<text x="131.8" y="683" textLength="55.1" lengthAdjust="spacingAndGlyphs" stroke="#000">24 Mar 16:00</text>
<rect x="197" y="671" width="1" height="3" fill="#000" shape-rendering="crispEdges"/>
<text x="195.8" y="683" textLength="55.1" lengthAdjust="spacingAndGlyphs" stroke="#000">28 Mar 00:00</text>
<rect x="261" y="671" width="1" height="3" fill="#000" shape-rendering="crispEdges"/>
<text x="259.8" y="683" textLength="55.1" lengthAdjust="spacingAndGlyphs" stroke="#000">29 Mar 08:00</text>
<rect x="325" y="671" width="1" height="3" fill="#000" shape-rendering="crispEdges"/>
<text x="323.8" y="683" textLength="55.1" lengthAdjust="spacingAndGlyphs" stroke="#000">30 Mar 16:00</text>
<rect x="389" y="671" width="1" height="3" fill="#000" shape-rendering="crispEdges"/>
<text x="387.8" y="683" textLength="47.9" lengthAdjust="spacingAndGlyphs" stroke="#000">1 Apr 00:00</text>
<rect x="453" y="671" width="1" height="3" fill="#000" shape-rendering="crispEdges"/>
<text x="451.8" y="683" textLength="47.9" lengthAdjust="spacingAndGlyphs" stroke="#000">4 Apr 08:00</text>
<rect x="517" y="671" width="1" height="3" fill="#000" shape-rendering="crispEdges"/>
<text x="515.8" y="683" textLength="47.9" lengthAdjust="spacingAndGlyphs" stroke="#000">5 Apr 16:00</text>
<rect x="581" y="671" width="1" height="3" fill="#000" shape-rendering="crispEdges"/>
<text x="579.8" y="683" textLength="47.9" lengthAdjust="spacingAndGlyphs" stroke="#000">7 Apr 00:00</text>
<rect x="645" y="671" width="1" height="3" fill="#000" shape-rendering="crispEdges"/>
<text x="643.8" y="683" textLength="47.9" lengthAdjust="spacingAndGlyphs" stroke="#000">8 Apr 08:00</text>
<rect x="709" y="671" width="1" height="3" fill="#000" shape-rendering="crispEdges"/>
<text x="707.8" y="683" textLength="52.4" lengthAdjust="spacingAndGlyphs" stroke="#000">11 Apr 16:00</text>
<rect x="773" y="671" width="1" height="3" fill="#000" shape-rendering="crispEdges"/>
<text x="771.8" y="683" textLength="53.1" lengthAdjust="spacingAndGlyphs" stroke="#000">13 Apr 00:00</text>
<rect x="837" y="671" width="1" height="3" fill="#000" shape-rendering="crispEdges"/>
<text x="835.8" y="683" textLength="53.1" lengthAdjust="spacingAndGlyphs" stroke="#000">14 Apr 08:00</text>
<rect x="901" y="671" width="1" height="3" fill="#000" shape-rendering="crispEdges"/>
<text x="899.8" y="683" textLength="53.1" lengthAdjust="spacingAndGlyphs" stroke="#000">18 Apr 12:00</text>
<rect x="965" y="671" width="1" height="3" fill="#000" shape-rendering="crispEdges"/>
<text x="963.8" y="683" textLength="53.1" lengthAdjust="spacingAndGlyphs" stroke="#000">19 Apr 20:00</text>
<rect x="1029" y="671" width="1" height="3" fill="#000" shape-rendering="crispEdges"/>
<text x="1027.8" y="683" textLength="53.1" lengthAdjust="spacingAndGlyphs" stroke="#000">21 Apr 04:00</text>
<rect x="1093" y="671" width="1" height="3" fill="#000" shape-rendering="crispEdges"/>
<text x="1091.8" y="683" textLength="53.1" lengthAdjust="spacingAndGlyphs" stroke="#000">22 Apr 12:00</text>
<rect x="1157" y="671" width="1" height="3" fill="#000" shape-rendering="crispEdges"/>
<text x="1155.8" y="683" textLength="53.1" lengthAdjust="spacingAndGlyphs" stroke="#000">25 Apr 20:00</text>
<text x="19.4" y="18" textLength="45.9" lengthAdjust="spacingAndGlyphs" stroke="#000">SP500-,H4</text>
<text x="70.3" y="18" textLength="37.7" lengthAdjust="spacingAndGlyphs" stroke="#000">4289.250</text>
<text x="111.6" y="18" textLength="37.7" lengthAdjust="spacingAndGlyphs" stroke="#000">4292.250</text>
<text x="152.6" y="18" textLength="37.7" lengthAdjust="spacingAndGlyphs" stroke="#000">4288.050</text>
<text x="193.8" y="18" textLength="37.7" lengthAdjust="spacingAndGlyphs" stroke="#000">4291.050</text>
<text x="8.5" y="431" textLength="143.6" lengthAdjust="spacingAndGlyphs" stroke="#000">MACD(12,26,9) -44.3537 -43.5446</text>
<text x="8.6" y="561" textLength="68.1" lengthAdjust="spacingAndGlyphs" stroke="#000">RSI(14) 41.1359</text>
</g>
<polygon points="7.7,11.8 15,11.8 11.35,16" fill="#000" shape-rendering="auto"/>
<text x="794" y="84" font-family="Noto Sans CJK SC, sans-serif" font-size="34.3" fill="#ff0000" shape-rendering="auto">多空转折点</text>
<text x="967" y="84" font-family="Liberation Sans, sans-serif" font-size="36.5" fill="#ff0000" shape-rendering="auto" textLength="85" lengthAdjust="spacingAndGlyphs">4240</text>
</svg>
</body></html>
